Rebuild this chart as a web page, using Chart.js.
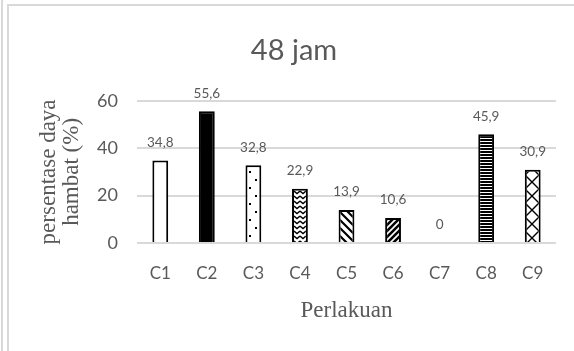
<!DOCTYPE html>
<html>
<head>
<meta charset="utf-8">
<script src="https://cdn.jsdelivr.net/npm/chart.js@4/dist/chart.umd.min.js"></script>
<style>
  html, body { margin: 0; padding: 0; background: #fff; }
  #wrap { position: relative; width: 574px; height: 351px; overflow: hidden; }
  .line { position: absolute; background: #d9d9d9; }
  canvas { position: absolute; left: 0; top: 0; }
</style>
</head>
<body>
<div id="wrap">
  <div class="line" style="left:1px;top:0;width:2px;height:351px"></div>
  <div class="line" style="left:7px;top:4px;width:2px;height:347px"></div>
  <div class="line" style="left:7px;top:4px;width:567px;height:2px"></div>
  <canvas id="chart" width="574" height="351"></canvas>
</div>
<script>
const perlakuan = ['C1', 'C2', 'C3', 'C4', 'C5', 'C6', 'C7', 'C8', 'C9'];
const dayaHambat = [34.8, 55.6, 32.8, 22.9, 13.9, 10.6, 0, 45.9, 30.9];
const yTicks = [0, 20, 40, 60];

const abu = '#595959';

// pola isian tiap batang (gaya arsiran Excel)
function buatPola(w, h, gambar) {
    const c = document.createElement('canvas');
    c.width = w; c.height = h;
    const g = c.getContext('2d');
    g.fillStyle = '#fff';
    g.fillRect(0, 0, w, h);
    g.strokeStyle = '#000';
    g.fillStyle = '#000';
    gambar(g, w, h);
    return document.getElementById('chart').getContext('2d').createPattern(c, 'repeat');
}

const polaPutih = '#ffffff';
const polaHitam = '#000000';
const polaTitik = buatPola(12, 16, g => {
    g.fillRect(3, 3, 2, 2);
    g.fillRect(9, 11, 2, 2);
});
const polaGelombang = buatPola(6, 5, g => {
    g.lineWidth = 1.4;
    g.beginPath();
    g.moveTo(0, 1); g.lineTo(3, 3.5); g.lineTo(6, 1);
    g.stroke();
});
const polaDiagTurun = buatPola(8, 8, g => {
    g.lineWidth = 2.2;
    g.beginPath();
    g.moveTo(-2, -2); g.lineTo(10, 10);
    g.moveTo(-10, -2); g.lineTo(2, 10);
    g.moveTo(6, -2); g.lineTo(18, 10);
    g.stroke();
});
const polaDiagNaik = buatPola(6, 6, g => {
    g.lineWidth = 2.6;
    g.beginPath();
    g.moveTo(-2, 8); g.lineTo(8, -2);
    g.moveTo(-8, 8); g.lineTo(2, -2);
    g.moveTo(4, 8); g.lineTo(14, -2);
    g.stroke();
});
const polaGarisDatar = buatPola(4, 3, g => {
    g.fillRect(0, 1, 4, 2);
});
const polaSilang = buatPola(14, 14, g => {
    g.lineWidth = 1.4;
    g.beginPath();
    g.moveTo(0, 0); g.lineTo(14, 14);
    g.moveTo(14, 0); g.lineTo(0, 14);
    g.stroke();
});

const isian = [polaPutih, polaHitam, polaTitik, polaGelombang, polaDiagTurun,
               polaDiagNaik, polaPutih, polaGarisDatar, polaSilang];

// label nilai di atas batang, pakai koma desimal
const labelNilai = {
    id: 'labelNilai',
    afterDatasetsDraw(chart) {
        const ctx = chart.ctx;
        const meta = chart.getDatasetMeta(0);
        ctx.save();
        ctx.font = '13.5px Lato';
        ctx.fillStyle = abu;
        ctx.textAlign = 'center';
        ctx.textBaseline = 'middle';
        meta.data.forEach((bar, i) => {
            const teks = String(dayaHambat[i]).replace('.', ',');
            ctx.fillText(teks, bar.x, bar.y - 18);
        });
        ctx.restore();
    }
};

new Chart(document.getElementById('chart'), {
    type: 'bar',
    data: {
        labels: perlakuan,
        datasets: [{
            data: dayaHambat,
            backgroundColor: isian,
            borderColor: '#000',
            borderWidth: 2,
            categoryPercentage: 1,
            barPercentage: 0.34
        }]
    },
    options: {
        responsive: false,
        animation: false,
        layout: { padding: { left: 32, right: 18, top: 33, bottom: 26 } },
        plugins: {
            legend: { display: false },
            tooltip: { enabled: false },
            title: {
                display: true,
                text: '48 jam',
                color: abu,
                font: { family: 'Lato', size: 29, weight: 'normal' },
                padding: { top: 0, bottom: 33 }
            }
        },
        scales: {
            x: {
                afterFit(scale) { scale.height = 82; },
                grid: { display: false, drawTicks: false },
                border: { display: false },
                ticks: {
                    color: abu,
                    font: { family: 'Lato', size: 17 },
                    padding: 20,
                    maxRotation: 0
                },
                title: {
                    display: true,
                    text: 'Perlakuan',
                    color: abu,
                    font: { family: 'Liberation Serif', size: 23 },
                    padding: { top: 14, bottom: 0 }
                }
            },
            y: {
                min: 0,
                max: 60,
                afterFit(scale) { scale.width = 105; },
                afterBuildTicks(scale) { scale.ticks = yTicks.map(v => ({ value: v })); },
                grid: { color: '#d9d9d9', lineWidth: 2, drawTicks: false },
                border: { display: false },
                ticks: {
                    color: abu,
                    font: { family: 'Lato', size: 18 },
                    padding: 19
                },
                title: {
                    display: true,
                    text: ['persentase daya', 'hambat (%)'],
                    color: abu,
                    font: { family: 'Liberation Serif', size: 23, lineHeight: 1 },
                    padding: { top: 5, bottom: 0 }
                }
            }
        }
    },
    plugins: [labelNilai]
});
</script>
</body>
</html>
